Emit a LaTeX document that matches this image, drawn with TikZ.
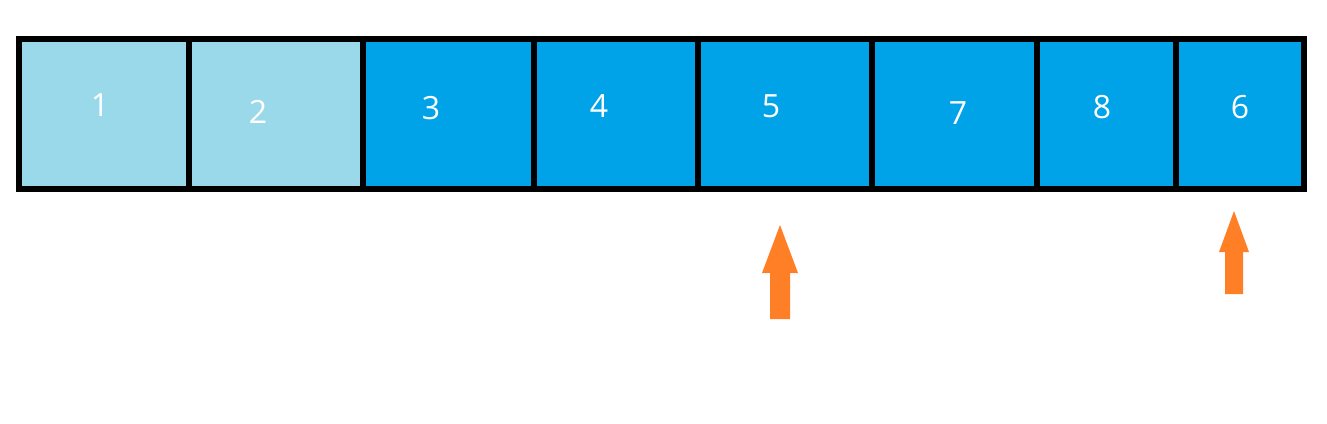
\documentclass[tikz,border=0pt]{standalone}
\usepackage{fontspec}
\setmainfont{Open Sans}
\usepackage{tikz}
\usetikzlibrary{positioning,calc}
\definecolor{lightcell}{HTML}{99D9EA}
\definecolor{darkcell}{HTML}{00A2E8}
\definecolor{pointer}{HTML}{FF7F27}
\tikzset{cell/.style={draw=black,line width=4.5pt},
	num/.style={text=white,font=\fontsize{24}{29}\selectfont,inner sep=0pt}}

\begin{document}
\begin{tikzpicture}[x=0.75pt,y=-0.75pt]
	\useasboundingbox (0,0) rectangle (1327,424);
	% the cells
	\foreach \l/\r/\c in {19/189/lightcell,189/363/lightcell,363/533.5/darkcell,533.5/697.5/darkcell,697.5/871.5/darkcell,871.5/1037/darkcell,1037/1175.5/darkcell,1175.5/1303.5/darkcell}
		\draw[cell,fill=\c] (\l,39) rectangle (\r,189);
	% the labels
	\node[num] (n1) at (100,105) {1};
	\node[num] (n2) at (258,112) {2};
	\node[num] (n3) at (431,108) {3};
	\node[num] (n4) at (599,106) {4};
	\node[num] (n5) at (771,106) {5};
	\node[num] (n7) at (958,113) {7};
	\node[num] (n8) at (1102,107) {8};
	\node[num] (n6) at (1240,107) {6};
	% the pointers
	\fill[pointer] (770,319) -- (770,273) -- (762,273) -- (780,225) -- (798,273) -- (790,273) -- (790,319) -- cycle;
	\fill[pointer] (1225,294) -- (1225,252) -- (1219,252) -- (1234,211) -- (1249,252) -- (1243,252) -- (1243,294) -- cycle;
\end{tikzpicture}
\end{document}
